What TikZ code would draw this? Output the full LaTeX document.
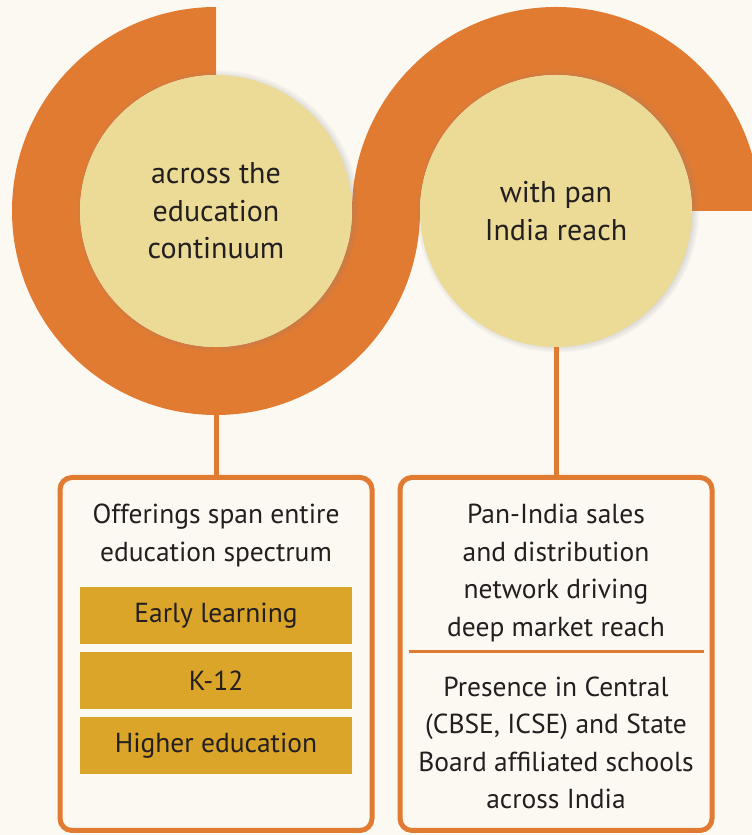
\documentclass[tikz,border=0pt]{standalone}
\usepackage{fontspec}
\setmainfont{PT Sans}
\usepackage{tikz}
\usetikzlibrary{shapes,positioning,backgrounds,shadows}
\definecolor{cream}{HTML}{FCF9F2}
\definecolor{ring}{HTML}{E27B32}
\definecolor{disc}{HTML}{EBDB97}
\definecolor{gold}{HTML}{DAA529}
\definecolor{ink}{HTML}{231F20}
\tikzset{
  hub/.style={circle, fill=disc, minimum size=272pt, inner sep=0pt, align=center,
    text=ink, font=\fontsize{30}{37.5}\selectfont,
    circular drop shadow={shadow scale=1.04, shadow xshift=1.5pt, shadow yshift=0pt, opacity=.7}},
  panel/.style={draw=ring, line width=5pt, rounded corners=12pt,
    minimum width=312pt, minimum height=353pt},
  blurb/.style={align=center, inner sep=0pt, text=ink, font=\fontsize{27.5}{37.5}\selectfont},
  tier/.style={fill=gold, minimum width=272pt, minimum height=57pt, inner sep=0pt,
    text=ink, font=\fontsize{27.5}{30}\selectfont},
  link/.style={draw=ring, line width=5pt},
  rule/.style={draw=ring, line width=3pt}
}

\begin{document}
\begin{tikzpicture}[x=1pt, y=1pt, node distance=7.5pt]
  \path[fill=cream, use as bounding box] (0,0) rectangle (752,835);
  % the two rings
  \fill[ring] (216,828) arc[start angle=90, end angle=360, radius=204] -- (352,624)
    arc[start angle=360, end angle=90, radius=136] -- cycle;
  \fill[ring] (352,624) arc[start angle=180, end angle=0, radius=204] -- (692,624)
    arc[start angle=0, end angle=180, radius=136] -- cycle;
  \node[hub] (edu) at (216,624) {across the\\education\\continuum};
  \node[hub] (reach) at (556,624) {with pan\\India reach};

  \node[panel] (offer) at (216,181) {};
  \node[panel] (sales) at (556,181) {};
  \path (edu) edge[link] (offer)
        (reach) edge[link] (sales);

  \node[blurb, below=29pt of offer.north] (span) {Offerings span entire\\education spectrum};
  \node[tier, below=112pt of offer.north] (early) {Early learning};
  \node[tier, below=of early] (k12) {K-12};
  \node[tier, below=of k12] (higher) {Higher education};

  \node[blurb, below=29pt of sales.north] (network) {Pan-India sales\\and distribution\\network driving\\deep market reach};
  \draw[rule] ([xshift=11pt, yshift=2pt]sales.west) -- ([xshift=-11pt, yshift=2pt]sales.east);
  \node[blurb, below=22.5pt of sales.center] (boards) {Presence in Central\\(CBSE, ICSE) and State\\Board affiliated schools\\across India};
\end{tikzpicture}
\end{document}
